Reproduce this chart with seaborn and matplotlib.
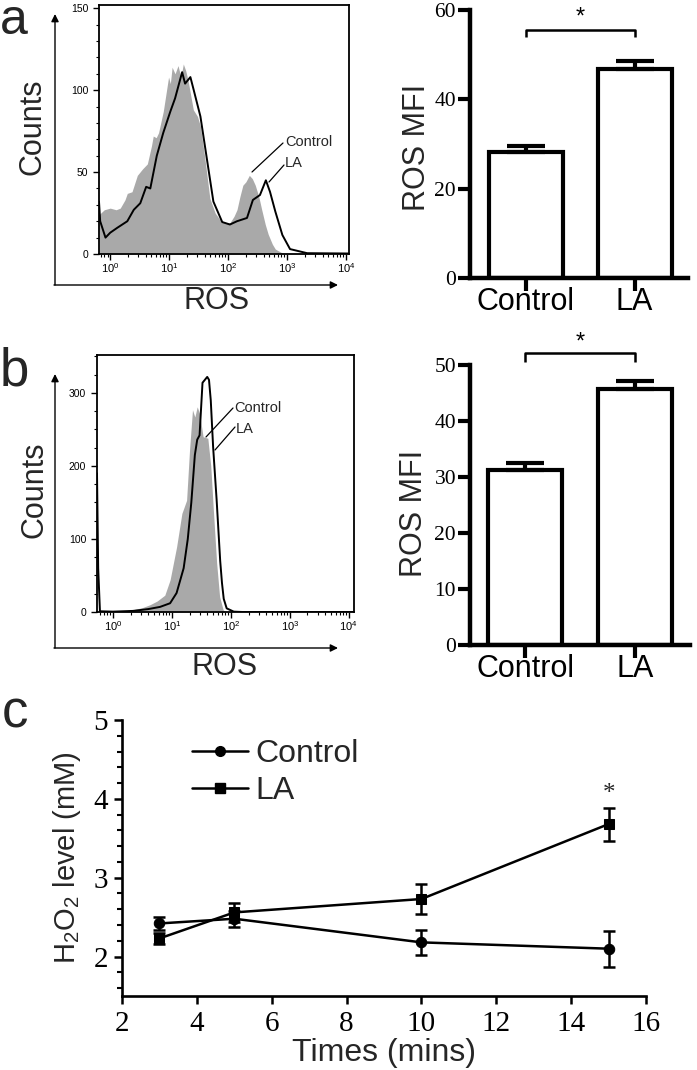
import numpy as np
import pandas as pd
import matplotlib
matplotlib.use('Agg')
import matplotlib.pyplot as plt
import seaborn as sns
from matplotlib.patches import FancyArrowPatch
from matplotlib.lines import Line2D
from matplotlib.ticker import LogLocator, MultipleLocator, FixedLocator, NullFormatter

sns.set_theme(style='ticks')
plt.rcParams['font.family'] = ['Liberation Sans', 'DejaVu Sans']
plt.rcParams['mathtext.fontset'] = 'custom'
plt.rcParams['mathtext.rm'] = 'Liberation Sans'
plt.rcParams['mathtext.it'] = 'Liberation Sans:italic'
plt.rcParams['mathtext.bf'] = 'Liberation Sans:bold'

# ---------------- data ----------------
# Panel a histogram (x given as log10 of ROS intensity)
hist_a_ctrl_log = [-0.19, -0.10, 0.00, 0.10, 0.17, 0.25, 0.29, 0.37, 0.46, 0.55, 0.63, 0.70, 0.73, 0.78,
                   0.82, 0.90, 0.96, 0.99, 1.02, 1.05, 1.10, 1.15, 1.20, 1.24, 1.28, 1.32, 1.37, 1.41,
                   1.48, 1.53, 1.60, 1.69, 1.78, 1.86, 1.95, 2.03, 2.10, 2.15, 2.20, 2.25, 2.30, 2.36,
                   2.41, 2.46, 2.52, 2.57, 2.63, 2.68, 2.75, 2.80, 2.90, 3.00, 4.05]
hist_a_ctrl_cnt = [24, 27, 28, 27, 28, 33, 37, 38, 48, 52, 55, 66, 72, 71,
                   74, 87, 101, 108, 104, 114, 110, 115, 108, 116, 112, 106, 96, 88,
                   84, 78, 60, 34, 25, 21, 19, 19, 23, 27, 35, 42, 44, 48,
                   46, 42, 35, 27, 18, 12, 6, 3, 1, 0.3, 0]
hist_a_la_log = [-0.19, -0.17, -0.08, 0.00, 0.12, 0.29, 0.40, 0.51, 0.61, 0.68, 0.79, 0.90, 1.02, 1.10,
                 1.22, 1.27, 1.36, 1.41, 1.53, 1.64, 1.75, 1.90, 2.03, 2.15, 2.32, 2.42, 2.54, 2.64,
                 2.71, 2.80, 2.92, 3.05, 3.34, 4.05]
hist_a_la_cnt = [32, 20, 10, 13, 16, 20, 27, 31, 41, 40, 60, 74, 87, 95,
                 111, 104, 108, 101, 84, 58, 32, 19.5, 18, 20, 22, 33, 36, 45,
                 38, 26, 11.6, 3, 0.5, 0.3]

# Panel b histogram
hist_b_ctrl_log = [-0.27, 0.20, 0.34, 0.50, 0.63, 0.75, 0.88, 0.97, 1.08, 1.17, 1.25, 1.30, 1.35, 1.39,
                   1.43, 1.47, 1.53, 1.61, 1.66, 1.70, 1.76, 1.81, 1.87, 1.92, 4.09]
hist_b_ctrl_cnt = [0, 0.5, 3, 6, 10, 15, 23, 44, 89, 135, 153, 222, 277, 267,
                   281, 272, 240, 238, 200, 145, 67, 21, 3, 0, 0]
hist_b_la_log = [-0.27, -0.25, -0.22, 0.00, 0.34, 0.60, 0.80, 0.97, 1.08, 1.20, 1.27, 1.33, 1.39, 1.43,
                 1.47, 1.52, 1.56, 1.60, 1.63, 1.66, 1.70, 1.76, 1.82, 1.85, 1.88, 1.93, 2.05, 2.20, 4.09]
hist_b_la_cnt = [190, 60, 1, 0.5, 1.5, 4, 7, 12, 26, 60, 100, 150, 215, 236,
                 242, 314, 318, 322, 318, 290, 226, 153, 70, 40, 18, 5, 0.5, 0, 0]

# Bar charts
bar_cats = ['Control', 'LA']
bar_a_vals = [28.1, 46.9]
bar_a_errs = [1.5, 1.6]
bar_a_yticks = [0, 20, 40, 60]
bar_b_vals = [31.2, 45.7]
bar_b_errs = [1.3, 1.4]
bar_b_yticks = [0, 10, 20, 30, 40, 50]

# Panel c
times = [3, 5, 10, 15]
ctrl_h2o2 = [2.42, 2.48, 2.18, 2.10]
ctrl_err = [0.08, 0.10, 0.16, 0.23]
la_h2o2 = [2.23, 2.56, 2.73, 3.68]
la_err = [0.07, 0.12, 0.19, 0.21]
c_xticks = [2, 4, 6, 8, 10, 12, 14, 16]
c_yticks = [2, 3, 4, 5]

hist_ticks = [1, 10, 100, 1000, 10000]
hist_ticklabels = [r'$10^{0}$', r'$10^{1}$', r'$10^{2}$', r'$10^{3}$', r'$10^{4}$']

SERIF = ['Liberation Serif', 'DejaVu Serif']

# ---------------- figure ----------------
W, H = 697, 1070
fig = plt.figure(figsize=(W / 100, H / 100), dpi=100)
fig.patch.set_facecolor('white')


def fx(x):
    return x / W


def fy(y):
    return 1 - y / H


def add_axes_px(l, t, r, b):
    return fig.add_axes([l / W, 1 - b / H, (r - l) / W, (b - t) / H])


def arrow(x0, y0, x1, y1):
    fig.add_artist(FancyArrowPatch((fx(x0), fy(y0)), (fx(x1), fy(y1)), transform=fig.transFigure,
                                   arrowstyle='-|>', mutation_scale=11, lw=1.0, color='black',
                                   shrinkA=0, shrinkB=0))


def fig_line(xs, ys, lw=0.9):
    fig.add_artist(Line2D([fx(v) for v in xs], [fy(v) for v in ys], transform=fig.transFigure,
                          color='black', lw=lw))


def hist_panel(ax, c_log, c_cnt, l_log, l_cnt, xl, ymax, ymaj, ymin):
    ax.set_xscale('log')
    ax.fill_between(10 ** np.array(c_log), c_cnt, 0, color='#a9a9a9', lw=0, zorder=1)
    sns.lineplot(x=10 ** np.array(l_log), y=l_cnt, ax=ax, color='black', lw=1.4,
                 sort=False, estimator=None, zorder=2)
    ax.set_xlim(10 ** xl[0], 10 ** xl[1])
    ax.set_ylim(0, ymax)
    ax.xaxis.set_major_locator(FixedLocator(hist_ticks))
    ax.set_xticklabels(hist_ticklabels)
    ax.xaxis.set_minor_locator(LogLocator(base=10, subs=np.arange(2, 10), numticks=20))
    ax.xaxis.set_minor_formatter(NullFormatter())
    ax.yaxis.set_major_locator(MultipleLocator(ymaj))
    ax.yaxis.set_minor_locator(MultipleLocator(ymin))
    for sp in ax.spines.values():
        sp.set_visible(True)
        sp.set_linewidth(1.3)
        sp.set_color('black')
    ax.tick_params(which='major', direction='out', length=4.3, width=1.0, colors='black',
                   labelsize=7.5, pad=1.2)
    ax.tick_params(axis='x', which='major', labelsize=8)
    ax.tick_params(axis='y', which='major', pad=3.5)
    ax.tick_params(which='minor', direction='out', length=2.4, width=0.8, colors='black')
    ax.set_xlabel('')
    ax.set_ylabel('')
    ax.set_facecolor('white')


def bar_panel(ax, vals, errs, ymax, yticks, xl, br_top, br_drop, star_y):
    df = pd.DataFrame({'group': bar_cats, 'value': vals})
    sns.barplot(data=df, x='group', y='value', ax=ax, color='white', edgecolor='black',
                linewidth=3, width=0.68, saturation=1, errorbar=None, zorder=2)
    ax.errorbar([0, 1], vals, yerr=[[0, 0], errs], fmt='none', ecolor='black', elinewidth=3,
                capsize=13.5, capthick=3, zorder=3)
    ax.plot([0, 0, 1, 1], [br_drop, br_top, br_top, br_drop], color='black', lw=1.8,
            clip_on=False, solid_capstyle='butt')
    ax.text(0.5, star_y, '*', ha='center', va='center', fontsize=17, color='black')
    ax.set_xlim(*xl)
    ax.set_ylim(0, ymax)
    ax.set_yticks(yticks, [str(t) for t in yticks], fontfamily=SERIF, fontsize=15.5)
    for s in ['top', 'right']:
        ax.spines[s].set_visible(False)
    for s in ['left', 'bottom']:
        ax.spines[s].set_linewidth(3.2)
        ax.spines[s].set_color('black')
    ax.tick_params(axis='y', direction='out', length=8.5, width=3, colors='black', pad=1.5)
    ax.tick_params(axis='x', direction='out', length=9, width=3, colors='black', pad=-2.5,
                   labelsize=22)
    ax.set_xlabel('')
    ax.set_ylabel('')
    ax.set_facecolor('white')


# ---- panel a histogram ----
ax_ha = add_axes_px(99, 5, 349, 254)
hist_panel(ax_ha, hist_a_ctrl_log, hist_a_ctrl_cnt, hist_a_la_log, hist_a_la_cnt,
           (-0.19, 4.05), 152, 50, 10)
arrow(55, 285, 55, 14)
arrow(54, 285, 338, 285)
fig.text(fx(33), fy(127), 'Counts', rotation=90, ha='center', va='center', fontsize=22)
fig.text(fx(217), fy(301), 'ROS', ha='center', va='center', fontsize=22)
fig_line([252, 283], [172, 143])
fig_line([269, 284], [182, 165])
fig.text(fx(285), fy(142), 'Control', ha='left', va='center', fontsize=10.5)
fig.text(fx(285), fy(163), 'LA', ha='left', va='center', fontsize=10.5)
fig.text(fx(0), fy(34), 'a', ha='left', va='baseline', fontsize=36)

# ---- panel a bars ----
ax_ba = add_axes_px(470, 10, 688, 278)
bar_panel(ax_ba, bar_a_vals, bar_a_errs, 60, bar_a_yticks, (-0.51, 1.49), 55.5, 54.0, 58.3)
fig.text(fx(417), fy(147), 'ROS MFI', rotation=90, ha='center', va='center', fontsize=22)

# ---- panel b histogram ----
ax_hb = add_axes_px(97, 355, 354, 612)
hist_panel(ax_hb, hist_b_ctrl_log, hist_b_ctrl_cnt, hist_b_la_log, hist_b_la_cnt,
           (-0.27, 4.09), 352, 100, 25)
arrow(55, 648, 55, 374)
arrow(54, 648, 338, 648)
fig.text(fx(35), fy(490), 'Counts', rotation=90, ha='center', va='center', fontsize=22)
fig.text(fx(225), fy(667), 'ROS', ha='center', va='center', fontsize=22)
fig_line([206, 233], [437, 408])
fig_line([215, 235], [450, 427])
fig.text(fx(234), fy(408), 'Control', ha='left', va='center', fontsize=10.5)
fig.text(fx(236), fy(429), 'LA', ha='left', va='center', fontsize=10.5)
fig.text(fx(0), fy(385), 'b', ha='left', va='baseline', fontsize=38)

# ---- panel b bars ----
ax_bb = add_axes_px(470, 365, 690, 645)
bar_panel(ax_bb, bar_b_vals, bar_b_errs, 50, bar_b_yticks, (-0.5, 1.5), 52.1, 50.5, 54.0)
fig.text(fx(414), fy(513), 'ROS MFI', rotation=90, ha='center', va='center', fontsize=22)

# ---- panel c ----
axc = add_axes_px(122, 720, 646, 996)
dfc = pd.DataFrame({'time': times * 2, 'level': ctrl_h2o2 + la_h2o2,
                    'group': ['Control'] * len(times) + ['LA'] * len(times)})
sns.lineplot(data=dfc, x='time', y='level', hue='group', style='group',
             markers={'Control': 'o', 'LA': 's'}, dashes=False,
             palette={'Control': 'black', 'LA': 'black'}, ax=axc, lw=1.8,
             markersize=7.5, markeredgecolor='black', legend=False, estimator=None)
axc.errorbar(times, ctrl_h2o2, yerr=ctrl_err, fmt='none', ecolor='black', elinewidth=1.8,
             capsize=4, capthick=1.8)
axc.errorbar(times, la_h2o2, yerr=la_err, fmt='none', ecolor='black', elinewidth=1.8,
             capsize=4, capthick=1.8)
axc.text(15, 4.06, '*', ha='center', va='center', fontsize=18, family=SERIF)
axc.set_xlim(2, 16)
axc.set_ylim(1.5, 5)
axc.set_xticks(c_xticks, [str(t) for t in c_xticks], fontfamily=SERIF, fontsize=21)
axc.set_yticks(c_yticks, [str(t) for t in c_yticks], fontfamily=SERIF, fontsize=21)
axc.yaxis.set_minor_locator(MultipleLocator(0.2))
for s in ['top', 'right']:
    axc.spines[s].set_visible(False)
for s in ['left', 'bottom']:
    axc.spines[s].set_linewidth(1.9)
    axc.spines[s].set_color('black')
axc.tick_params(which='major', direction='out', length=6, width=1.8, colors='black')
axc.tick_params(axis='y', which='major', pad=4)
axc.tick_params(axis='x', which='major', pad=5)
axc.tick_params(which='minor', direction='out', length=3.5, width=1.5, colors='black')
axc.set_xlabel('')
axc.set_ylabel('')
axc.set_facecolor('white')
handles = [Line2D([], [], color='black', marker='o', lw=1.8, ms=7),
           Line2D([], [], color='black', marker='s', lw=1.8, ms=7)]
axc.legend(handles=handles, labels=['Control', 'LA'], loc='upper left',
           bbox_to_anchor=(0.1336, 0.93), frameon=False, fontsize=23, handlelength=1.75,
           handletextpad=0.22, labelspacing=0.2, borderpad=0, borderaxespad=0)
fig.text(fx(67), fy(858), r'H$_\mathregular{2}$O$_\mathregular{2}$ level (mM)', rotation=90,
         ha='center', va='center', fontsize=21)
fig.text(fx(384), fy(1053), 'Times (mins)', ha='center', va='center', fontsize=23)
fig.text(fx(2), fy(727), 'c', ha='left', va='baseline', fontsize=38)

fig.savefig('out.png', dpi=100, facecolor='white')
